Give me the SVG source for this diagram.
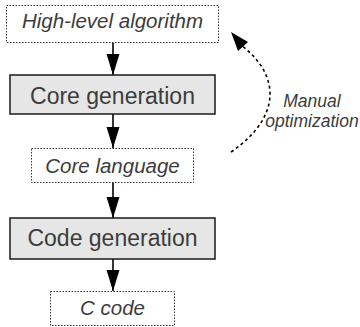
<svg xmlns="http://www.w3.org/2000/svg" width="360" height="327" viewBox="0 0 360 327">
<defs>
<style>
.solid{fill:#e6e6e6;stroke:#1a1a1a;stroke-width:1.5}
.dot{fill:#fff;stroke:#333;stroke-width:1;stroke-dasharray:1.5,1.5}
.t{font-family:"Liberation Sans",Arial,sans-serif;fill:#3c3c3c;text-anchor:middle}
.big{font-size:23px}
.it{font-size:20.5px;font-style:italic}
.lab{font-size:17.5px;font-style:italic}
.conn{stroke:#000;stroke-width:1.6;fill:none}
</style>
<marker id="ah" markerUnits="userSpaceOnUse" markerWidth="23" markerHeight="15" refX="21" refY="6.5" orient="auto">
<path d="M0,0 L21,6.5 L0,13 z" fill="#000"/>
</marker>
</defs>
<rect width="360" height="327" fill="#fff"/>
<g id="connectors">
<line class="conn" x1="113" y1="43" x2="113" y2="75" marker-end="url(#ah)"/>
<line class="conn" x1="113" y1="114" x2="113" y2="148" marker-end="url(#ah)"/>
<line class="conn" x1="113" y1="182" x2="113" y2="218" marker-end="url(#ah)"/>
<line class="conn" x1="113" y1="259" x2="113" y2="291" marker-end="url(#ah)"/>
<path class="conn" d="M231,152 C278,120 284,78 241,45" stroke-width="2" stroke-dasharray="3,3"/>
<polygon points="231,32 248,42 238,51" fill="#000"/>
</g>
<g id="high-level">
<rect class="dot" x="6.5" y="5.5" width="212" height="37"/>
<text class="t it" x="112.5" y="28">High-level algorithm</text>
</g>
<g id="core-generation">
<rect class="solid" x="10" y="75" width="205" height="39"/>
<text class="t big" x="112.5" y="104">Core generation</text>
</g>
<g id="core-language">
<rect class="dot" x="31.5" y="148.5" width="162" height="34"/>
<text class="t it" x="112.5" y="173">Core language</text>
</g>
<g id="code-generation">
<rect class="solid" x="10" y="218" width="205" height="41"/>
<text class="t big" x="112.5" y="246">Code generation</text>
</g>
<g id="c-code">
<rect class="dot" x="50.5" y="291.5" width="124" height="34"/>
<text class="t it" x="112.5" y="315">C code</text>
</g>
<g id="manual-label">
<text class="t lab" x="312" y="107">Manual</text>
<text class="t lab" x="312" y="127">optimization</text>
</g>
</svg>
